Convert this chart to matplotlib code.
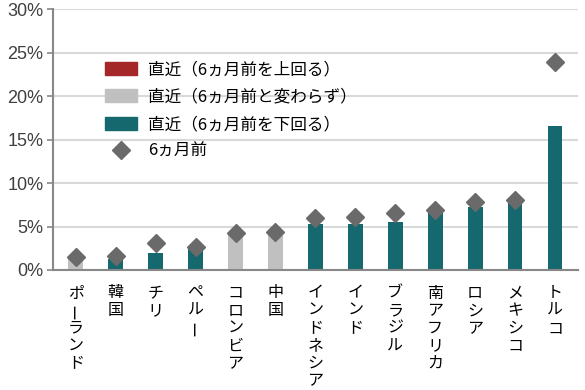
import matplotlib
matplotlib.use("Agg")
import matplotlib.pyplot as plt
import matplotlib.transforms as mtransforms
from matplotlib.patches import Patch
from matplotlib.lines import Line2D
import numpy as np

plt.rcParams['font.family'] = ['Noto Sans CJK JP', 'DejaVu Sans']

categories = ["ポーランド", "韓国", "チリ", "ペルー", "コロンビア", "中国", "インドネシア",
              "インド", "ブラジル", "南アフリカ", "ロシア", "メキシコ", "トルコ"]
latest = [1.5, 1.25, 2.0, 2.5, 4.25, 4.4, 5.3, 5.25, 5.5, 6.5, 7.2, 7.8, 16.55]
six_months_ago = [1.5, 1.6, 3.05, 2.65, 4.25, 4.4, 5.95, 6.1, 6.6, 6.9, 7.85, 8.1, 23.9]
yticks = [0, 5, 10, 15, 20, 25, 30]
labels = ["直近（6ヵ月前を上回る）", "直近（6ヵ月前と変わらず）", "直近（6ヵ月前を下回る）", "6ヵ月前"]

RED = "#a52828"
GRAY = "#c0c0c0"
TEAL = "#14686e"
DIAM = "#6a6a6a"

fig = plt.figure(figsize=(5.85, 3.9), dpi=100)
ax = fig.add_axes([0.0906, 0.3077, 0.897, 0.669])

x = np.arange(len(categories))
lat = np.array(latest)
prev = np.array(six_months_ago)
up = np.where(lat > prev, lat, 0)
same = np.where(lat == prev, lat, 0)
down = np.where(lat < prev, lat, 0)
w = 0.37
ax.bar(x, up, w, color=RED, zorder=2)
ax.bar(x, same, w, color=GRAY, zorder=2)
ax.bar(x, down, w, color=TEAL, zorder=2)
ax.plot(x, prev, linestyle='none', marker='D', ms=9.5, color=DIAM, zorder=3)

ax.set_xlim(-0.57, len(categories) - 0.43)
ax.set_ylim(0, 30)
ax.set_yticks(yticks)
ax.set_yticklabels([f"{v}%" for v in yticks], fontfamily='Liberation Sans', fontsize=13, color='#404040')
ax.yaxis.grid(True, color='#d9d9d9', linewidth=1.5, zorder=0)
ax.set_axisbelow(True)
for s in ['top', 'right']:
    ax.spines[s].set_visible(False)
for s in ['left', 'bottom']:
    ax.spines[s].set_color('#888888')
    ax.spines[s].set_linewidth(1.5)
ax.tick_params(axis='y', length=4, color='#888888', width=1.2, pad=3)
ax.tick_params(axis='x', length=0)
ax.set_xticks(x)
ax.set_xticklabels([])

# vertical (stacked) category labels
trans = mtransforms.blended_transform_factory(ax.transData, ax.transAxes)
step = 17.6
for i, name in enumerate(categories):
    for j, ch in enumerate(name):
        ax.annotate(ch, xy=(i, 0), xycoords=trans,
                    xytext=(0, -23 - j * step), textcoords='offset pixels',
                    ha='center', va='center', fontsize=11.5, color='#000000',
                    rotation=90 if ch == 'ー' else 0, annotation_clip=False)

handles = [Patch(color=RED), Patch(color=GRAY), Patch(color=TEAL),
           Line2D([], [], linestyle='none', marker='D', ms=9.5, color=DIAM)]
ax.legend(handles, labels, loc='upper left', bbox_to_anchor=(0.099, 0.80),
          frameon=False, fontsize=12, handlelength=1.9, handleheight=0.85,
          handletextpad=0.7, labelspacing=0.62, borderpad=0, borderaxespad=0)

fig.savefig("out.png", dpi=100)
